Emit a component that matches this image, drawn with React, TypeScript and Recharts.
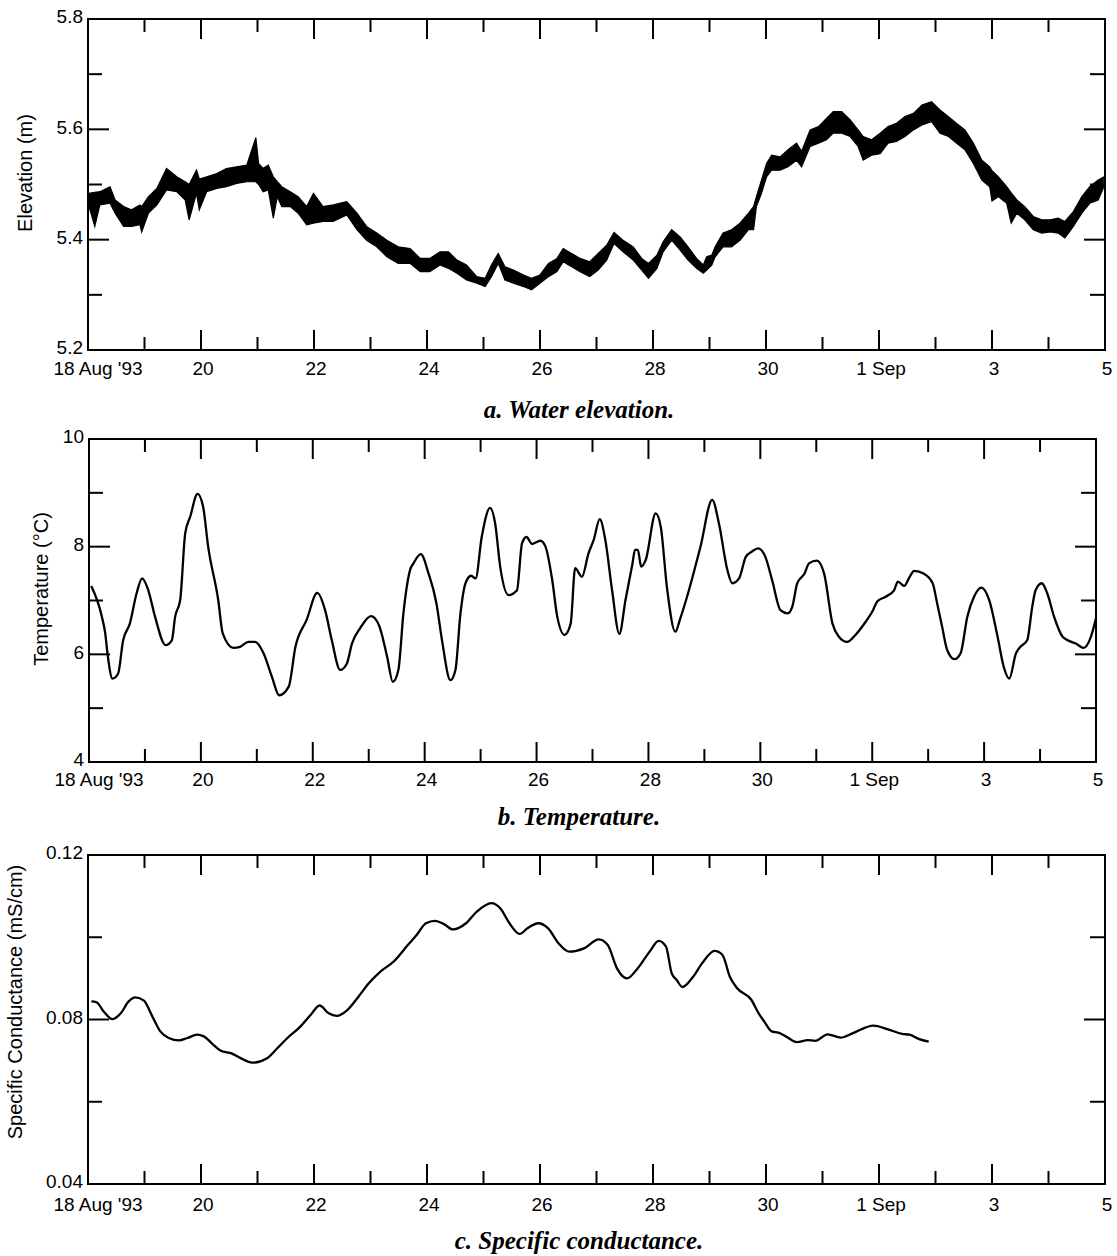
import React from 'react';
import { ComposedChart, Area, Line, XAxis, YAxis } from 'recharts';

// ---------- shared x axis (days after 18 Aug 1993 00:00) ----------
const xTickDays = [0, 1, 2, 3, 4, 5, 6, 7, 8, 9, 10, 11, 12, 13, 14, 15, 16, 17, 18];
const xLabelDays = [0, 2, 4, 6, 8, 10, 12, 14, 16, 18];
const xLabelText = ["18 Aug '93", '20', '22', '24', '26', '28', '30', '1 Sep', '3', '5'];

// ---------- a. Water elevation (envelope of the noisy record) ----------
const elevDays = [0.0, 0.02, 0.12, 0.21, 0.39, 0.48, 0.63, 0.77, 0.92, 0.95, 1.07, 1.22, 1.39, 1.57, 1.72, 1.79, 1.92, 1.97, 2.1, 2.28, 2.45, 2.63, 2.81, 2.97, 3.02, 3.1, 3.19, 3.28, 3.35, 3.43, 3.58, 3.72, 3.87, 3.99, 4.16, 4.34, 4.58, 4.76, 4.93, 5.11, 5.29, 5.49, 5.7, 5.88, 6.05, 6.23, 6.38, 6.53, 6.7, 6.88, 7.03, 7.14, 7.26, 7.38, 7.53, 7.71, 7.85, 8.0, 8.15, 8.3, 8.41, 8.56, 8.71, 8.88, 9.03, 9.18, 9.31, 9.47, 9.65, 9.8, 9.92, 10.07, 10.18, 10.33, 10.48, 10.62, 10.77, 10.89, 10.95, 11.04, 11.1, 11.24, 11.39, 11.54, 11.69, 11.78, 11.83, 11.92, 12.01, 12.1, 12.25, 12.39, 12.54, 12.63, 12.78, 12.93, 13.07, 13.19, 13.34, 13.49, 13.63, 13.72, 13.87, 14.02, 14.16, 14.31, 14.46, 14.61, 14.76, 14.93, 15.08, 15.23, 15.37, 15.52, 15.67, 15.82, 15.96, 16.0, 16.11, 16.26, 16.34, 16.44, 16.58, 16.73, 16.88, 17.03, 17.17, 17.29, 17.44, 17.59, 17.73, 17.88, 17.98];
const elevHigh = [5.48, 5.484, 5.486, 5.487, 5.496, 5.472, 5.46, 5.454, 5.463, 5.46, 5.478, 5.493, 5.529, 5.514, 5.505, 5.5, 5.526, 5.51, 5.514, 5.52, 5.529, 5.532, 5.535, 5.585, 5.538, 5.529, 5.535, 5.514, 5.505, 5.496, 5.487, 5.478, 5.46, 5.484, 5.46, 5.463, 5.469, 5.448, 5.424, 5.412, 5.399, 5.387, 5.384, 5.366, 5.366, 5.378, 5.378, 5.363, 5.354, 5.333, 5.33, 5.354, 5.375, 5.351, 5.345, 5.336, 5.33, 5.336, 5.357, 5.366, 5.384, 5.375, 5.366, 5.36, 5.375, 5.39, 5.413, 5.399, 5.387, 5.366, 5.357, 5.372, 5.396, 5.418, 5.405, 5.387, 5.366, 5.354, 5.369, 5.372, 5.387, 5.412, 5.418, 5.43, 5.448, 5.46, 5.478, 5.508, 5.538, 5.553, 5.55, 5.563, 5.575, 5.56, 5.599, 5.605, 5.62, 5.632, 5.632, 5.617, 5.599, 5.587, 5.581, 5.593, 5.605, 5.611, 5.623, 5.629, 5.644, 5.65, 5.635, 5.623, 5.611, 5.599, 5.575, 5.544, 5.532, 5.525, 5.514, 5.496, 5.485, 5.472, 5.46, 5.442, 5.436, 5.436, 5.439, 5.433, 5.451, 5.478, 5.496, 5.508, 5.514];
const elevLow = [5.455, 5.459, 5.424, 5.463, 5.466, 5.448, 5.424, 5.424, 5.427, 5.414, 5.448, 5.463, 5.49, 5.487, 5.472, 5.436, 5.484, 5.454, 5.487, 5.493, 5.496, 5.502, 5.505, 5.505, 5.5, 5.487, 5.49, 5.439, 5.478, 5.46, 5.46, 5.448, 5.427, 5.43, 5.433, 5.433, 5.445, 5.418, 5.399, 5.387, 5.369, 5.357, 5.357, 5.342, 5.342, 5.354, 5.348, 5.339, 5.327, 5.321, 5.315, 5.333, 5.357, 5.327, 5.321, 5.315, 5.309, 5.321, 5.333, 5.342, 5.36, 5.351, 5.342, 5.333, 5.345, 5.363, 5.393, 5.378, 5.363, 5.345, 5.33, 5.348, 5.378, 5.399, 5.381, 5.363, 5.348, 5.339, 5.345, 5.354, 5.369, 5.387, 5.387, 5.399, 5.418, 5.418, 5.46, 5.484, 5.514, 5.526, 5.526, 5.532, 5.544, 5.532, 5.569, 5.575, 5.581, 5.593, 5.593, 5.587, 5.569, 5.544, 5.553, 5.556, 5.575, 5.578, 5.587, 5.599, 5.608, 5.614, 5.593, 5.587, 5.575, 5.563, 5.538, 5.508, 5.496, 5.47, 5.478, 5.466, 5.43, 5.448, 5.436, 5.418, 5.412, 5.414, 5.412, 5.403, 5.424, 5.448, 5.466, 5.472, 5.496];
const elevTicks = [5.2, 5.3, 5.4, 5.5, 5.6, 5.7, 5.8];
const elevMajor = [5.2, 5.4, 5.6, 5.8];
const elevLabels = ['5.2', '5.4', '5.6', '5.8'];

// ---------- b. Temperature ----------
const tempDays = [0.04, 0.23, 0.29, 0.33, 0.42, 0.52, 0.61, 0.73, 0.85, 0.95, 1.06, 1.18, 1.37, 1.48, 1.54, 1.63, 1.72, 1.81, 1.94, 2.04, 2.13, 2.31, 2.39, 2.58, 2.7, 2.85, 2.97, 3.12, 3.27, 3.4, 3.57, 3.69, 3.89, 4.08, 4.22, 4.34, 4.49, 4.61, 4.7, 4.85, 5.04, 5.18, 5.33, 5.43, 5.53, 5.62, 5.74, 5.8, 5.93, 6.07, 6.21, 6.31, 6.46, 6.55, 6.64, 6.73, 6.83, 6.91, 7.02, 7.17, 7.26, 7.35, 7.5, 7.65, 7.74, 7.82, 7.92, 8.07, 8.16, 8.28, 8.37, 8.5, 8.61, 8.69, 8.81, 8.93, 9.02, 9.13, 9.23, 9.35, 9.48, 9.59, 9.71, 9.76, 9.81, 9.87, 9.95, 10.13, 10.22, 10.33, 10.48, 10.57, 10.69, 10.93, 11.14, 11.26, 11.41, 11.5, 11.62, 11.74, 11.85, 11.96, 12.09, 12.21, 12.36, 12.49, 12.57, 12.66, 12.79, 12.87, 13.01, 13.14, 13.29, 13.4, 13.55, 13.7, 13.88, 14.0, 14.09, 14.24, 14.39, 14.46, 14.57, 14.67, 14.75, 14.92, 15.08, 15.16, 15.25, 15.34, 15.47, 15.58, 15.7, 15.82, 15.95, 16.09, 16.24, 16.35, 16.45, 16.57, 16.65, 16.77, 16.86, 16.92, 17.03, 17.13, 17.25, 17.4, 17.52, 17.64, 17.78, 17.91, 18.0];
const tempValues = [7.27, 6.7, 6.39, 6.02, 5.55, 5.64, 6.26, 6.57, 7.13, 7.41, 7.19, 6.7, 6.17, 6.26, 6.7, 7.01, 8.25, 8.56, 8.98, 8.74, 8.0, 7.01, 6.39, 6.12, 6.14, 6.23, 6.23, 6.02, 5.58, 5.24, 5.4, 6.14, 6.64, 7.14, 6.82, 6.26, 5.71, 5.83, 6.2, 6.49, 6.71, 6.55, 5.95, 5.49, 5.71, 6.76, 7.57, 7.69, 7.86, 7.5, 6.95, 6.26, 5.52, 5.71, 6.76, 7.32, 7.46, 7.41, 8.18, 8.72, 8.43, 7.63, 7.1, 7.19, 8.06, 8.18, 8.05, 8.11, 8.0, 7.38, 6.7, 6.36, 6.57, 7.6, 7.44, 7.88, 8.12, 8.51, 8.12, 7.19, 6.38, 7.01, 7.66, 7.94, 7.94, 7.63, 7.75, 8.62, 8.37, 7.25, 6.42, 6.67, 7.07, 8.0, 8.87, 8.43, 7.57, 7.32, 7.41, 7.81, 7.91, 7.97, 7.81, 7.38, 6.82, 6.76, 6.88, 7.32, 7.5, 7.69, 7.74, 7.5, 6.57, 6.33, 6.23, 6.36, 6.6, 6.79, 6.98, 7.07, 7.19, 7.35, 7.27, 7.44, 7.55, 7.5, 7.32, 6.95, 6.51, 6.08, 5.91, 6.02, 6.7, 7.07, 7.24, 7.01, 6.33, 5.77, 5.55, 6.02, 6.14, 6.26, 6.88, 7.19, 7.32, 7.13, 6.7, 6.33, 6.25, 6.2, 6.12, 6.33, 6.67];
const tempTicks = [4, 5, 6, 7, 8, 9, 10];
const tempMajor = [4, 6, 8, 10];
const tempLabels = ['4', '6', '8', '10'];

// ---------- c. Specific conductance ----------
const condDays = [0.06, 0.15, 0.28, 0.43, 0.58, 0.72, 0.84, 0.99, 1.14, 1.28, 1.43, 1.61, 1.76, 1.93, 2.05, 2.2, 2.35, 2.55, 2.7, 2.91, 3.17, 3.35, 3.53, 3.73, 3.94, 4.1, 4.26, 4.4, 4.59, 4.79, 4.97, 5.18, 5.41, 5.66, 5.82, 5.98, 6.14, 6.3, 6.46, 6.69, 6.88, 7.14, 7.3, 7.46, 7.64, 7.78, 7.97, 8.14, 8.33, 8.52, 8.78, 9.04, 9.2, 9.36, 9.54, 9.71, 9.94, 10.1, 10.23, 10.33, 10.42, 10.52, 10.71, 10.87, 11.09, 11.23, 11.36, 11.49, 11.74, 11.87, 11.97, 12.1, 12.22, 12.35, 12.55, 12.74, 12.87, 13.09, 13.32, 13.54, 13.9, 14.16, 14.41, 14.54, 14.7, 14.88];
const condValues = [0.0844, 0.0842, 0.0819, 0.0801, 0.0815, 0.0844, 0.0854, 0.0846, 0.0807, 0.0771, 0.0755, 0.0749, 0.0755, 0.0763, 0.0759, 0.0741, 0.0724, 0.0717, 0.0706, 0.0695, 0.0706, 0.073, 0.0755, 0.0779, 0.0811, 0.0834, 0.0815, 0.0809, 0.0823, 0.0856, 0.0888, 0.0917, 0.0941, 0.0981, 0.1006, 0.1034, 0.104, 0.1032, 0.1019, 0.1034, 0.1062, 0.1083, 0.107, 0.1034, 0.1008, 0.1022, 0.1034, 0.1022, 0.0985, 0.0965, 0.0973, 0.0995, 0.0981, 0.0925, 0.09, 0.0921, 0.0965, 0.0991, 0.0977, 0.0913, 0.0896, 0.0879, 0.0904, 0.0937, 0.0967, 0.0957, 0.0904, 0.0876, 0.0848, 0.0815, 0.0795, 0.0771, 0.0768, 0.0759, 0.0745, 0.075, 0.0748, 0.0764, 0.0756, 0.0767, 0.0785, 0.0776, 0.0765, 0.0763, 0.0753, 0.0746];
const condTicks = [0.04, 0.06, 0.08, 0.1, 0.12];
const condMajor = [0.04, 0.08, 0.12];
const condLabels = ['0.04', '0.08', '0.12'];

// ---------- tables for the library ----------
const elevData = elevDays.map((d, i) => ({ day: d, range: [elevLow[i], elevHigh[i]], hi: elevHigh[i] }));
const tempData = tempDays.map((d, i) => ({ day: d, t: tempValues[i] }));
const condData = condDays.map((d, i) => ({ day: d, c: condValues[i] }));

const SANS = "'Liberation Sans', Arial, Helvetica, sans-serif";
const SERIF = "'Liberation Serif', 'Times New Roman', serif";
const TICK_FONT = 19;
const MAJOR_LEN = 20;
const MINOR_LEN = 13;
const AXIS_LINE = { stroke: '#000', strokeWidth: 2, strokeLinecap: 'square' as const };

const findIdx = (v: number, arr: number[]) => arr.findIndex((a) => Math.abs(a - v) < 1e-9);

const bottomTick = (labelDy: number) => (p: any) => {
  const v = p.payload.value;
  const idx = findIdx(v, xLabelDays);
  const len = idx >= 0 ? MAJOR_LEN : MINOR_LEN;
  return (
    <g>
      <line x1={p.x} y1={p.y} x2={p.x} y2={p.y - len} stroke="#000" strokeWidth={2} />
      {idx >= 0 && (
        <text x={p.x + (v === 0 ? 10 : 2)} y={p.y + labelDy} textAnchor="middle" fontSize={TICK_FONT} fontFamily={SANS} fill="#000">
          {xLabelText[idx]}
        </text>
      )}
    </g>
  );
};

const topTick = (p: any) => {
  const idx = findIdx(p.payload.value, xLabelDays);
  const len = idx >= 0 ? MAJOR_LEN : MINOR_LEN;
  return <line x1={p.x} y1={p.y} x2={p.x} y2={p.y + len} stroke="#000" strokeWidth={2} />;
};

const leftTick = (major: number[], labels: string[]) => (p: any) => {
  const idx = findIdx(p.payload.value, major);
  const len = idx >= 0 ? MAJOR_LEN + 1 : MINOR_LEN + 1;
  return (
    <g>
      <line x1={p.x} y1={p.y} x2={p.x + len} y2={p.y} stroke="#000" strokeWidth={2} />
      {idx >= 0 && (
        <text x={p.x - 5} y={p.y - 2} dy="0.34em" textAnchor="end" fontSize={TICK_FONT} fontFamily={SANS} fill="#000">
          {labels[idx]}
        </text>
      )}
    </g>
  );
};

const rightTick = (major: number[]) => (p: any) => {
  const idx = findIdx(p.payload.value, major);
  const len = idx >= 0 ? MAJOR_LEN + 1 : MINOR_LEN + 2;
  return <line x1={p.x} y1={p.y} x2={p.x - len} y2={p.y} stroke="#000" strokeWidth={2} />;
};

type PanelProps = {
  top: number;
  height: number;
  data: any[];
  marginTop: number;
  marginRight: number;
  marginBottom: number;
  yWidth: number;
  xHeight: number;
  labelDy: number;
  yDomain: [number, number];
  yTicks: number[];
  yMajor: number[];
  yLabels: string[];
  hiddenKey: string;
  children: React.ReactNode;
};

function Panel(props: PanelProps) {
  return (
    <div style={{ position: 'absolute', left: 0, top: props.top }}>
      <ComposedChart
        width={1117}
        height={props.height}
        data={props.data}
        margin={{ top: props.marginTop, right: props.marginRight, bottom: props.marginBottom, left: 0 }}
      >
        <XAxis
          xAxisId="b"
          dataKey="day"
          type="number"
          domain={[0, 18]}
          ticks={xTickDays}
          interval={0}
          orientation="bottom"
          height={props.xHeight}
          tickSize={0}
          tickMargin={0}
          tickLine={false}
          axisLine={AXIS_LINE}
          tick={bottomTick(props.labelDy)}
          allowDataOverflow
        />
        <XAxis
          xAxisId="t"
          dataKey="day"
          type="number"
          domain={[0, 18]}
          ticks={xTickDays}
          interval={0}
          orientation="top"
          height={1}
          tickSize={0}
          tickMargin={0}
          tickLine={false}
          axisLine={AXIS_LINE}
          tick={topTick}
          allowDataOverflow
        />
        <YAxis
          yAxisId="l"
          type="number"
          domain={props.yDomain}
          ticks={props.yTicks}
          interval={0}
          orientation="left"
          width={props.yWidth}
          tickSize={0}
          tickMargin={0}
          tickLine={false}
          axisLine={AXIS_LINE}
          tick={leftTick(props.yMajor, props.yLabels)}
          allowDataOverflow
        />
        <YAxis
          yAxisId="r"
          type="number"
          domain={props.yDomain}
          ticks={props.yTicks}
          interval={0}
          orientation="right"
          width={1}
          tickSize={0}
          tickMargin={0}
          tickLine={false}
          axisLine={AXIS_LINE}
          tick={rightTick(props.yMajor)}
          allowDataOverflow
        />
        {props.children}
        <Line
          xAxisId="t"
          yAxisId="r"
          dataKey={props.hiddenKey}
          stroke="none"
          dot={false}
          activeDot={false}
          isAnimationActive={false}
        />
      </ComposedChart>
    </div>
  );
}

export default function App() {
  return (
    <div style={{ position: 'relative', width: 1117, height: 1256, background: '#fff' }}>
      <style>{`body{margin:0;background:#fff;}`}</style>

      <Panel
        top={0}
        height={400}
        data={elevData}
        marginTop={18}
        marginRight={11}
        marginBottom={10}
        yWidth={88}
        xHeight={40}
        labelDy={25}
        yDomain={[5.2, 5.8]}
        yTicks={elevTicks}
        yMajor={elevMajor}
        yLabels={elevLabels}
        hiddenKey="hi"
      >
        <Area
          xAxisId="b"
          yAxisId="l"
          dataKey="range"
          type="linear"
          stroke="#000"
          strokeWidth={1.2}
          fill="#000"
          fillOpacity={1}
          dot={false}
          activeDot={false}
          isAnimationActive={false}
        />
      </Panel>

      <Panel
        top={420}
        height={380}
        data={tempData}
        marginTop={18}
        marginRight={20}
        marginBottom={8}
        yWidth={89}
        xHeight={30}
        labelDy={24}
        yDomain={[4, 10]}
        yTicks={tempTicks}
        yMajor={tempMajor}
        yLabels={tempLabels}
        hiddenKey="t"
      >
        <Line
          xAxisId="b"
          yAxisId="l"
          dataKey="t"
          type="monotone"
          stroke="#000"
          strokeWidth={2.3}
          dot={false}
          activeDot={false}
          isAnimationActive={false}
        />
      </Panel>

      <Panel
        top={836}
        height={410}
        data={condData}
        marginTop={18}
        marginRight={11}
        marginBottom={22}
        yWidth={88}
        xHeight={40}
        labelDy={27}
        yDomain={[0.04, 0.12]}
        yTicks={condTicks}
        yMajor={condMajor}
        yLabels={condLabels}
        hiddenKey="c"
      >
        <Line
          xAxisId="b"
          yAxisId="l"
          dataKey="c"
          type="monotone"
          stroke="#000"
          strokeWidth={2.3}
          dot={false}
          activeDot={false}
          isAnimationActive={false}
        />
      </Panel>

      <svg
        width={1117}
        height={1256}
        style={{ position: 'absolute', left: 0, top: 0, pointerEvents: 'none' }}
      >
        <g fontFamily={SANS} fontSize={20} fill="#000">
          <text transform="translate(26,173) rotate(-90)" textAnchor="middle" dy="0.3em">Elevation (m)</text>
          <text transform="translate(42,589) rotate(-90)" textAnchor="middle" dy="0.3em">Temperature (°C)</text>
          <text transform="translate(16,1002) rotate(-90)" textAnchor="middle" dy="0.3em">Specific Conductance (mS/cm)</text>
        </g>
        <g fontFamily={SERIF} fontSize={25} fontStyle="italic" fontWeight="bold" fill="#000" textAnchor="middle">
          <text x={579} y={418}>a. Water elevation.</text>
          <text x={579} y={825}>b. Temperature.</text>
          <text x={579} y={1249}>c. Specific conductance.</text>
        </g>
      </svg>
    </div>
  );
}
